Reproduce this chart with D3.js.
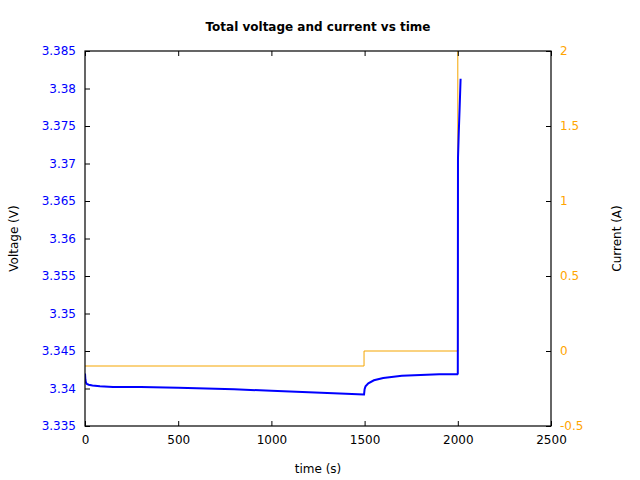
<!DOCTYPE html>
<html><head><meta charset="utf-8">
<script src="https://cdn.jsdelivr.net/npm/d3@7"></script>
<style>body{margin:0}svg text{font-family:"DejaVu Sans",sans-serif}</style>
</head><body><div id="okvir"></div>
<script>
const tV = [0, 2, 5, 10, 20, 40, 80, 150, 300, 500, 800, 1000, 1200, 1400, 1495, 1497, 1500, 1505, 1520, 1550, 1600, 1700, 1800, 1900, 1998, 2000, 2001, 2005, 2010, 2015]
const volt = [3.3420, 3.3412, 3.3408, 3.3406, 3.3405, 3.3404, 3.3403, 3.3402, 3.3402, 3.3401, 3.3399, 3.3397, 3.3395, 3.3393, 3.3392, 3.3392, 3.3399, 3.3403, 3.3407, 3.3411, 3.3414, 3.3417, 3.3418, 3.3419, 3.3419, 3.3420, 3.3707, 3.3740, 3.3775, 3.3813]
const tI = [0, 1497, 1497, 1997, 1997, 2000, 2000]
const curr = [-0.1, -0.1, 0, 0, 0, 0, 2.5]
const xTicks = [0, 500, 1000, 1500, 2000, 2500]
const yTicks = [3.335, 3.34, 3.345, 3.35, 3.355, 3.36, 3.365, 3.37, 3.375, 3.38, 3.385]
const y2Ticks = [-0.5, 0, 0.5, 1, 1.5, 2]

const m = {left: 85, right: 89, top: 51, bottom: 54}
const W = 640, H = 480, w = W - m.left - m.right, h = H - m.top - m.bottom
const svg = d3.select("#okvir").append("svg").attr("width", W).attr("height", H)
const g = svg.append("g").attr("transform", `translate(${m.left},${m.top})`)

const x = d3.scaleLinear().domain([0, 2500]).range([0, w])
const y = d3.scaleLinear().domain([3.335, 3.385]).range([h, 0])
const y2 = d3.scaleLinear().domain([-0.5, 2]).range([h, 0])

g.append("clipPath").attr("id", "c").append("rect").attr("width", w).attr("height", h)

g.append("path").attr("clip-path", "url(#c)")
  .attr("d", d3.line().x((d, i) => x(tI[i])).y(d => y2(d))(curr))
  .attr("fill", "none").attr("stroke", "#f5a500").attr("stroke-width", 1)
g.append("path").attr("clip-path", "url(#c)")
  .attr("d", d3.line().x((d, i) => x(tV[i])).y(d => y(d))(volt))
  .attr("fill", "none").attr("stroke", "blue").attr("stroke-width", 2)

const fmt = d => String(+d.toFixed(4))
const ax = (sel, col) => { sel.selectAll("text").attr("fill", col).style("font-size", "12px"); sel.select(".domain").remove(); sel.selectAll("line").attr("stroke", "black") }
g.append("g").attr("transform", `translate(0,${h})`).call(d3.axisBottom(x).tickValues(xTicks).tickSize(-5).tickPadding(9).tickFormat(fmt)).call(s => ax(s, "black"))
g.append("g").call(d3.axisTop(x).tickValues(xTicks).tickSize(-5).tickFormat("")).call(s => ax(s, "black"))
g.append("g").call(d3.axisLeft(y).tickValues(yTicks).tickSize(-5).tickPadding(9).tickFormat(fmt)).call(s => ax(s, "blue"))
g.append("g").attr("transform", `translate(${w},0)`).call(d3.axisRight(y2).tickValues(y2Ticks).tickSize(-5).tickPadding(9).tickFormat(fmt)).call(s => ax(s, "orange"))
g.append("rect").attr("width", w).attr("height", h).attr("fill", "none").attr("stroke", "black").attr("stroke-width", 1.2)

svg.append("text").attr("x", m.left + w / 2).attr("y", 31).attr("text-anchor", "middle").style("font-size", "12px").style("font-weight", "bold").text("Total voltage and current vs time")
svg.append("text").attr("x", m.left + w / 2).attr("y", 473).attr("text-anchor", "middle").style("font-size", "12px").text("time (s)")
svg.append("text").attr("transform", `translate(18,${m.top + h / 2}) rotate(-90)`).attr("text-anchor", "middle").style("font-size", "12px").text("Voltage (V)")
svg.append("text").attr("transform", `translate(621,${m.top + h / 2}) rotate(-90)`).attr("text-anchor", "middle").style("font-size", "12px").text("Current (A)")
</script></body></html>
